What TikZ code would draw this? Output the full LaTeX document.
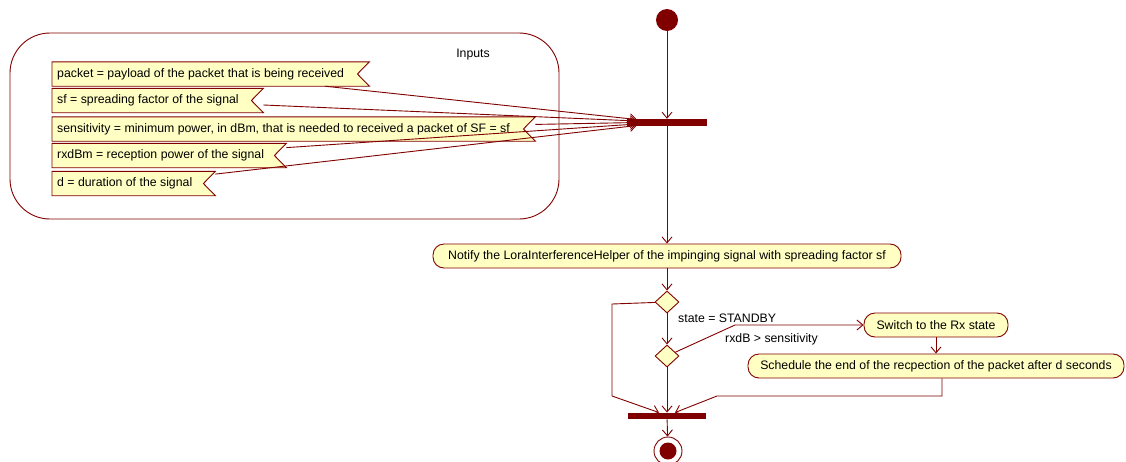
\documentclass[tikz,border=0pt]{standalone}
\usepackage{fontspec}
\setmainfont{Liberation Sans}
\usetikzlibrary{arrows.meta,shapes.geometric,backgrounds,calc}
\definecolor{umlred}{HTML}{800000}
\definecolor{umlfill}{HTML}{FFFFC4}
\begin{document}
\begin{tikzpicture}[x=1pt,y=-1pt,
  every node/.style={font=\fontsize{12.3}{14}\selectfont},
  flow/.style={draw=umlred, line width=0.9pt,
    -{Straight Barb[length=6pt,width=10pt,line width=0.9pt]}},
  action/.style={draw=umlred, fill=umlfill, line width=0.9pt,
    rounded corners=11pt, minimum height=24pt, inner sep=0pt},
  choice/.style={diamond, draw=umlred, fill=umlfill, line width=0.9pt,
    minimum width=24pt, minimum height=22pt, inner sep=0pt},
  syncbar/.style={fill=umlred, draw=none, minimum height=7pt, inner sep=0pt},
  note/.style={anchor=west, inner xsep=5pt, inner ysep=0pt, minimum height=24pt},
  flag/.style={draw=umlred, fill=umlfill, line width=0.9pt},
  guard/.style={anchor=west, inner sep=0pt}
]
\useasboundingbox (0,0) rectangle (1126,461);
\clip (0,0) rectangle (1126,461);

% input notes (text only; flag outlines go on the background layer)
\node (n1) [note] at (52,74)    {\makebox[307pt][l]{packet = payload of the packet that is being received}};
\node (n2) [note] at (52,100.5) {\makebox[201pt][l]{sf = spreading factor of the signal}};
\node (n3) [note] at (52,129)   {\makebox[473pt][l]{sensitivity = minimum power, in dBm, that is needed to received a packet of SF = sf}};
\node (n4) [note] at (52,155.5) {\makebox[224pt][l]{rxdBm = reception power of the signal}};
\node (n5) [note] at (52,183.5) {\makebox[153pt][l]{d = duration of the signal}};

\begin{scope}[on background layer]
  \node (inputs) [draw=umlred, line width=0.9pt, rounded corners=40pt,
    minimum width=549pt, minimum height=186pt, inner sep=0pt] at (284.5,126) {};
  \foreach \n in {n1,n2,n3,n4,n5}
    \draw[flag] (\n.north west) -- (\n.north east) -- ([xshift=-12pt]\n.east)
      -- (\n.south east) -- (\n.south west) -- cycle;
\end{scope}
\node (inputslbl) at (473,55) {Inputs};

% control flow
\node (start) [circle, fill=umlred, minimum size=22pt, inner sep=0pt] at (667,20) {};
\node (bar1) [syncbar, minimum width=80pt] at (667,122.5) {};
\node (notify) [action, minimum width=468pt] at (667,256)
  {Notify the LoraInterferenceHelper of the impinging signal with spreading factor sf};
\node (d1) [choice] at (667,302) {};
\node (d2) [choice] at (667,356) {};
\node (switch) [action, minimum width=144pt] at (936,325) {Switch to the Rx state};
\node (sched) [action, minimum width=376pt] at (936,366)
  {Schedule the end of the recpection of the packet after d seconds};
\node (bar2) [syncbar, minimum width=78pt, minimum height=6.5pt] at (667,416) {};
\node (finish) [circle, draw=umlred, fill=white, line width=0.9pt,
  minimum size=28pt, inner sep=0pt] at (668,451) {};
\node (finishdot) [circle, fill=umlred, minimum size=17pt, inner sep=0pt] at (finish) {};

\node (gstate) [guard] at (678,318) {state = STANDBY};
\node (grx) [guard] at (725,339) {rxdB > sensitivity};

\coordinate (bendA) at (735,325);
\coordinate (bendB) at (942,396);
\coordinate (bendC) at (717,396);
\coordinate (bendD) at (612,304);
\coordinate (bendE) at (612,396);

% inputs into the fork
\draw[flow] (n1) -- ([xshift=10pt,yshift=3pt]bar1.west);
\draw[flow] (n2) -- ([xshift=10pt,yshift=1.5pt]bar1.west);
\draw[flow] (n3) -- ([xshift=10pt]bar1.west);
\draw[flow] (n4) -- ([xshift=10pt,yshift=-1.5pt]bar1.west);
\draw[flow] (n5) -- ([xshift=10pt,yshift=-3pt]bar1.west);

\draw[flow] (start) -- (bar1);
\draw[flow] (bar1) -- (notify);
\draw[flow] (notify) -- (d1);
\draw[flow] (d1) -- (d2);
\draw[flow] (d2) -- (bendA) -- (switch.west);
\draw[flow] (switch) -- (sched);
\draw[flow] (sched.south -| bendB) -- (bendB) -- (bendC) -- ([xshift=8pt]bar2.north);
\draw[flow] (d1) -- (bendD) -- (bendE) -- ([xshift=-8pt]bar2.north);
\draw[flow] (d2) -- (bar2);
\draw[flow] (bar2) -- (finish);
\end{tikzpicture}
\end{document}
